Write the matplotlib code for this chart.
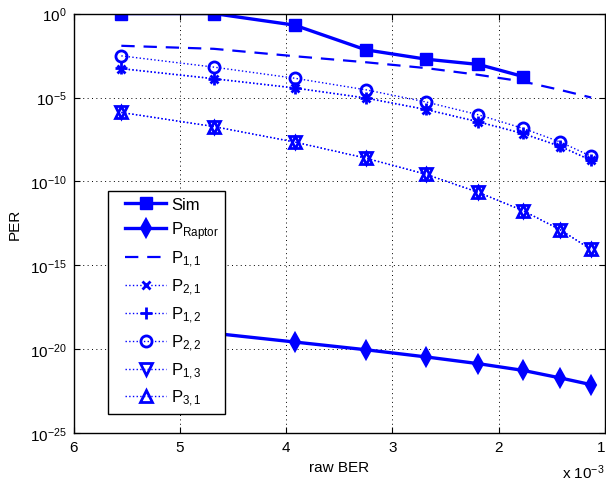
import matplotlib
matplotlib.use("Agg")
import matplotlib.pyplot as plt
from matplotlib.legend_handler import HandlerLine2D
import numpy as np

plt.rcParams['font.family'] = ['Liberation Sans', 'DejaVu Sans']
plt.rcParams['mathtext.fontset'] = 'custom'
plt.rcParams['mathtext.rm'] = 'Liberation Sans'
plt.rcParams['mathtext.it'] = 'Liberation Sans'
plt.rcParams['mathtext.bf'] = 'Liberation Sans'

# raw BER in units of 1e-3
ber = [5.55, 4.68, 3.92, 3.25, 2.68, 2.19, 1.77, 1.42, 1.13]

# log10(PER)
sim_log = [0.0, 0.0, -0.69, -2.16, -2.72, -3.03, -3.75]
raptor_log = [-18.5, -19.04, -19.56, -20.02, -20.45, -20.85, -21.25, -21.7, -22.1]
p11_log = [-1.92, -2.1, -2.54, -2.9, -3.25, -3.65, -4.05, -4.55, -5.0]
p21_log = [-3.29, -3.89, -4.44, -5.04, -5.73, -6.46, -7.16, -7.92, -8.75]
p12_log = [-3.27, -3.87, -4.42, -5.02, -5.71, -6.44, -7.14, -7.90, -8.73]
p22_log = [-2.52, -3.19, -3.85, -4.54, -5.27, -6.03, -6.84, -7.65, -8.5]
p13_log = [-5.89, -6.73, -7.65, -8.61, -9.58, -10.65, -11.74, -12.88, -14.05]
p31_log = [-5.89, -6.73, -7.65, -8.61, -9.58, -10.65, -11.74, -12.88, -14.05]

BLUE = '#0000ff'


def per(vals):
    return 10.0 ** np.array(vals)


fig = plt.figure(figsize=(6.06, 4.85), dpi=100)
ax = fig.add_axes([0.1213, 0.1044, 0.877, 0.8656])

ax.semilogy(ber[:len(sim_log)], per(sim_log), '-s', color=BLUE, lw=2.4,
            ms=8, mfc=BLUE, mec=BLUE, label='Sim')
ax.semilogy(ber, per(raptor_log), '-d', color=BLUE, lw=2.4,
            ms=9, mfc=BLUE, mec=BLUE, mew=1.5, label=r'P$_{\rm Raptor}$')
ax.semilogy(ber, per(p11_log), '--', color=BLUE, lw=1.6,
            dashes=(6, 4), label=r'P$_{1,1}$')
ax.semilogy(ber, per(p21_log), ':x', color=BLUE, lw=1.0,
            ms=6, mew=2, label=r'P$_{2,1}$')
ax.semilogy(ber, per(p12_log), ':+', color=BLUE, lw=1.0,
            ms=8, mew=2, label=r'P$_{1,2}$')
ax.semilogy(ber, per(p22_log), ':o', color=BLUE, lw=1.0,
            ms=8, mfc='none', mew=2, label=r'P$_{2,2}$')
ax.semilogy(ber, per(p13_log), ':v', color=BLUE, lw=1.0,
            ms=8, mfc='none', mew=2, label=r'P$_{1,3}$')
ax.semilogy(ber, per(p31_log), ':^', color=BLUE, lw=1.0,
            ms=8, mfc='none', mew=2, label=r'P$_{3,1}$')

ax.set_xlim(6, 1)
ax.set_ylim(1e-25, 1e0)
ax.set_xticks([6, 5, 4, 3, 2, 1])
ax.set_xticklabels(['6', '5', '4', '3', '2', '1'])
ax.get_xticklabels()[-1].set_ha('right')
ax.set_yticks([10.0 ** k for k in range(-25, 1, 5)])
ax.minorticks_off()
ax.tick_params(direction='in', which='both', top=True, right=True,
               labelsize=11, length=4, width=0.8, pad=5)
for s in ax.spines.values():
    s.set_linewidth(1.0)

ax.grid(True, which='major', color='black', linestyle=(0, (1, 3.5)), lw=0.7)

ax.set_xlabel('raw BER', fontsize=11, labelpad=4)
ax.set_ylabel('PER', fontsize=11, labelpad=6)
fig.text(0.998, 0.006, r'x 10$^{-3}$', ha='right', va='bottom', fontsize=11)

# push the legend handles right, leaving a gap after the frame
handler = HandlerLine2D(xpad=0.66)
handles, labels = ax.get_legend_handles_labels()
leg = ax.legend(handles, labels, loc='upper left',
                bbox_to_anchor=(0.0655, 0.578), borderaxespad=0, fontsize=12,
                fancybox=False, framealpha=1, edgecolor='black',
                handlelength=3.12, labelspacing=0.45, handletextpad=0.3,
                borderpad=0.35,
                handler_map={h: handler for h in handles})
leg.get_frame().set_linewidth(1.0)

fig.savefig('out.png', dpi=100, facecolor='white')
